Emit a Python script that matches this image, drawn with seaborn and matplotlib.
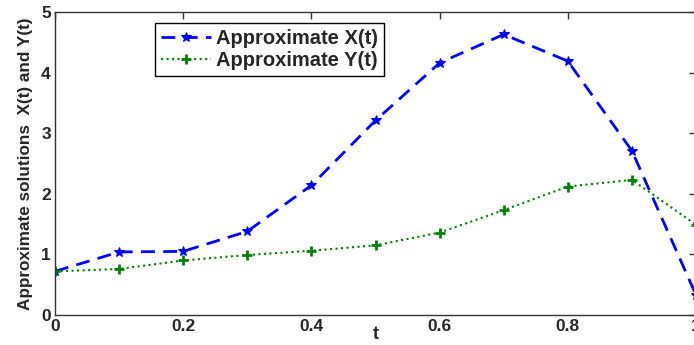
import matplotlib
matplotlib.use("Agg")
import matplotlib.pyplot as plt
import seaborn as sns
import pandas as pd

t = [0.0, 0.1, 0.2, 0.3, 0.4, 0.5, 0.6, 0.7, 0.8, 0.9, 1.0]
x_vals = [0.72, 1.04, 1.05, 1.38, 2.14, 3.21, 4.16, 4.63, 4.19, 2.71, 0.33]
y_vals = [0.72, 0.76, 0.90, 0.99, 1.06, 1.15, 1.36, 1.73, 2.12, 2.23, 1.49]
x_ticks = [0, 0.2, 0.4, 0.6, 0.8, 1]
x_ticklabels = ["0", "0.2", "0.4", "0.6", "0.8", "1"]
y_ticks = [0, 1, 2, 3, 4, 5]

sns.set_style("white")
plt.rcParams["font.family"] = ["Liberation Sans", "DejaVu Sans"]
plt.rcParams["font.weight"] = "bold"

df = pd.DataFrame({"t": t, "X": x_vals, "Y": y_vals})

fig = plt.figure(figsize=(6.94, 3.45), dpi=100)
ax = fig.add_axes([55 / 694, 30 / 345, 641 / 694, 303 / 345])

sns.lineplot(data=df, x="t", y="X", ax=ax, color="#0000ff", linestyle="--",
             marker="*", markersize=7, markeredgecolor="#0000ff",
             linewidth=2, label="Approximate X(t)")
sns.lineplot(data=df, x="t", y="Y", ax=ax, color="#008000", linestyle=":",
             marker="+", markersize=7, markeredgewidth=2,
             markeredgecolor="#008000", markerfacecolor="#008000",
             linewidth=1.5, label="Approximate Y(t)")
lines = ax.get_lines()
lines[0].set_dashes((5, 3))

ax.set_xlim(0, 1)
ax.set_ylim(0, 5)
ax.set_xticks(x_ticks)
ax.set_xticklabels(x_ticklabels)
ax.set_yticks(y_ticks)
ax.tick_params(direction="in", length=5, width=1, top=True, right=True,
               labelsize=12.5, pad=3, color="#333333")
for lab in ax.get_xticklabels() + ax.get_yticklabels():
    lab.set_fontweight("bold")
for s in ax.spines.values():
    s.set_visible(True)
    s.set_color("#333333")
    s.set_linewidth(1)

ax.set_xlabel("t", fontsize=13, fontweight="bold", labelpad=-6)
ax.set_ylabel("Approximate solutions  X(t) and Y(t)", fontsize=12.3,
              fontweight="bold", labelpad=6)

leg = ax.legend(loc="upper left", bbox_to_anchor=(0.156, 0.963),
                borderaxespad=0, frameon=True, fancybox=False,
                edgecolor="black", framealpha=1, handlelength=2.5,
                prop={"weight": "bold", "size": 14.5}, borderpad=0.3,
                labelspacing=0.15, handletextpad=0.25)
leg.get_frame().set_linewidth(1)

fig.savefig("out.png", dpi=100)
